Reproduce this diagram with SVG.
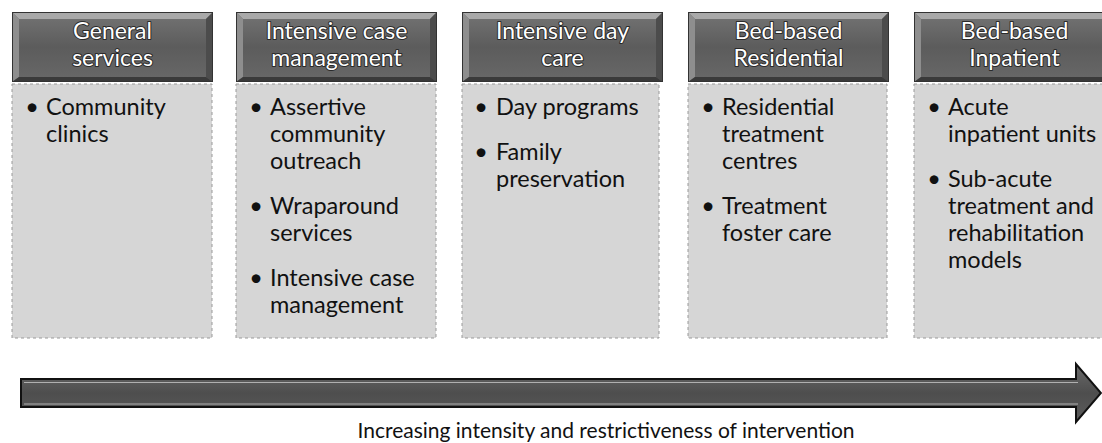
<svg xmlns="http://www.w3.org/2000/svg" xmlns:xlink="http://www.w3.org/1999/xlink" width="1102" height="443" viewBox="0 0 1102 443">
  <style>
    .body { fill: #d6d6d6; stroke: #9a9a9a; stroke-width: 1; stroke-dasharray: 3 3; }
    .head { font-family: Lato, "Open Sans", "Liberation Sans", sans-serif; font-size: 23px; fill: #ffffff; stroke: #2a2a2a; stroke-width: 2; paint-order: stroke; stroke-linejoin: round; text-anchor: middle; }
    .item { font-family: Lato, "Open Sans", "Liberation Sans", sans-serif; font-size: 23.5px; fill: #111111; }
    .bullet { font-family: Lato, "Open Sans", "Liberation Sans", sans-serif; font-size: 23.5px; fill: #111111; text-anchor: middle; }
    .caption { font-family: Lato, "Open Sans", "Liberation Sans", sans-serif; font-size: 21px; fill: #111111; text-anchor: middle; }
    .arrow { fill: url(#arrowFill); stroke: #111111; stroke-width: 2; stroke-linejoin: miter; }
    .arrowHi { fill: none; stroke: #b0b0b0; stroke-width: 1; }
  </style>
  <defs>
    <linearGradient id="faceFill" x1="0" y1="0" x2="0" y2="1">
      <stop offset="0" stop-color="#747474"/>
      <stop offset="0.5" stop-color="#5c5c5c"/>
      <stop offset="1" stop-color="#686868"/>
    </linearGradient>
    <linearGradient id="arrowFill" x1="0" y1="0" x2="0" y2="1">
      <stop offset="0" stop-color="#6a6a6a"/>
      <stop offset="0.5" stop-color="#4e4e4e"/>
      <stop offset="1" stop-color="#5c5c5c"/>
    </linearGradient>
    <!-- bevelled header tile, 201 x 70 -->
    <symbol id="bevel" viewBox="0 0 201 70" width="201" height="70" overflow="visible">
      <rect x="0" y="0" width="201" height="70" fill="url(#faceFill)"/>
      <polygon points="0,0 201,0 194,7 7,7" fill="#a9a9a9"/>
      <polygon points="0,0 7,7 7,65 0,70" fill="#8e8e8e"/>
      <polygon points="201,0 201,70 194,65 194,7" fill="#4c4c4c"/>
      <polygon points="0,70 7,65 194,65 201,70" fill="#3a3a3a"/>
      <rect x="0.5" y="0.5" width="200" height="69" fill="none" stroke="#333333" stroke-width="1"/>
    </symbol>
  </defs>

  <rect width="1102" height="443" fill="#ffffff"/>

  <g id="node-general-services">
    <rect class="body" x="12" y="84" width="200" height="254"/>
    <use xlink:href="#bevel" href="#bevel" x="12" y="12"/>
    <text class="head" x="112.5" y="39">General</text>
    <text class="head" x="112.5" y="66">services</text>
    <text class="bullet" x="32" y="115">•</text>
    <text class="item" x="46" y="115">Community</text>
    <text class="item" x="46" y="142">clinics</text>
  </g>

  <g id="node-intensive-case-management">
    <rect class="body" x="236" y="84" width="200" height="254"/>
    <use xlink:href="#bevel" href="#bevel" x="236" y="12"/>
    <text class="head" x="336.5" y="39">Intensive case</text>
    <text class="head" x="336.5" y="66">management</text>
    <text class="bullet" x="256" y="115">•</text>
    <text class="item" x="270" y="115">Assertive</text>
    <text class="item" x="270" y="142">community</text>
    <text class="item" x="270" y="169">outreach</text>
    <text class="bullet" x="256" y="214">•</text>
    <text class="item" x="270" y="214">Wraparound</text>
    <text class="item" x="270" y="241">services</text>
    <text class="bullet" x="256" y="286">•</text>
    <text class="item" x="270" y="286">Intensive case</text>
    <text class="item" x="270" y="313">management</text>
  </g>

  <g id="node-intensive-day-care">
    <rect class="body" x="462" y="84" width="197" height="254"/>
    <use xlink:href="#bevel" href="#bevel" x="462" y="12"/>
    <text class="head" x="562.5" y="39">Intensive day</text>
    <text class="head" x="562.5" y="66">care</text>
    <text class="bullet" x="481" y="115">•</text>
    <text class="item" x="496" y="115">Day programs</text>
    <text class="bullet" x="481" y="160">•</text>
    <text class="item" x="496" y="160">Family</text>
    <text class="item" x="496" y="187">preservation</text>
  </g>

  <g id="node-bed-based-residential">
    <rect class="body" x="688" y="84" width="199" height="254"/>
    <use xlink:href="#bevel" href="#bevel" x="688" y="12"/>
    <text class="head" x="788.5" y="39">Bed-based</text>
    <text class="head" x="788.5" y="66">Residential</text>
    <text class="bullet" x="708" y="115">•</text>
    <text class="item" x="722" y="115">Residential</text>
    <text class="item" x="722" y="142">treatment</text>
    <text class="item" x="722" y="169">centres</text>
    <text class="bullet" x="708" y="214">•</text>
    <text class="item" x="722" y="214">Treatment</text>
    <text class="item" x="722" y="241">foster care</text>
  </g>

  <g id="node-bed-based-inpatient">
    <rect class="body" x="914" y="84" width="200" height="254"/>
    <use xlink:href="#bevel" href="#bevel" x="914" y="12"/>
    <text class="head" x="1014.5" y="39">Bed-based</text>
    <text class="head" x="1014.5" y="66">Inpatient</text>
    <text class="bullet" x="934" y="115">•</text>
    <text class="item" x="948" y="115">Acute</text>
    <text class="item" x="948" y="142">inpatient units</text>
    <text class="bullet" x="934" y="187">•</text>
    <text class="item" x="948" y="187">Sub-acute</text>
    <text class="item" x="948" y="214">treatment and</text>
    <text class="item" x="948" y="241">rehabilitation</text>
    <text class="item" x="948" y="268">models</text>
  </g>

  <g id="connectors">
    <!-- block arrow running under all five levels -->
    <path class="arrow" d="M21,379 H1076 V364 L1101,393 L1076,422 V407 H21 Z"/>
    <path class="arrowHi" d="M24,382.5 H1078 M24,404 H1078"/>
  </g>

  <text class="caption" x="606" y="438">Increasing intensity and restrictiveness of intervention</text>
</svg>
